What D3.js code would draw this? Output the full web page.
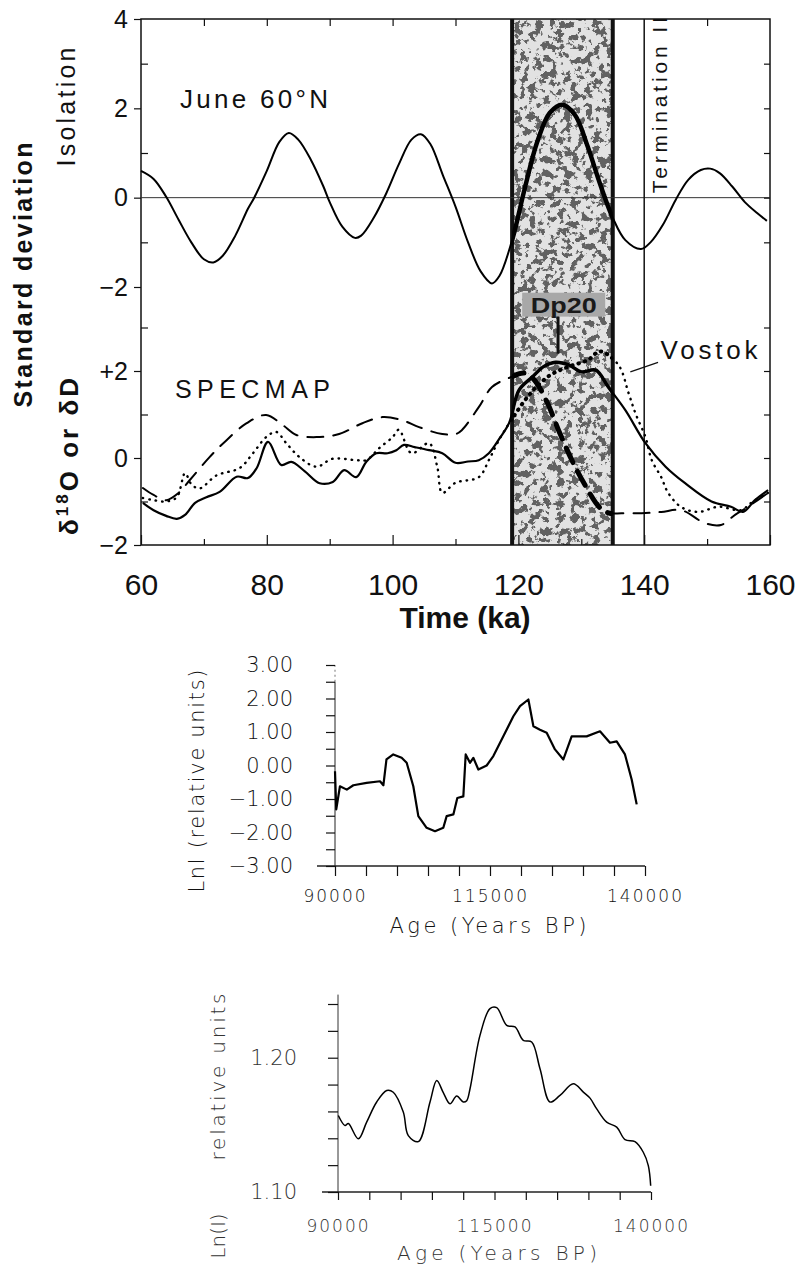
<!DOCTYPE html>
<html>
<head>
<meta charset="utf-8">
<script src="https://cdn.jsdelivr.net/npm/d3@7"></script>
<style>
  body { margin: 0; background: #fff; }
  svg { display: block; }
</style>
</head>
<body>
<svg width="800" height="1268"></svg>
<script>
// ---------- data ----------
// top panel: June 60N insolation (ka, std dev)
var insolation = [
  [60,0.6],[62,0.42],[64,0.02],[66,-0.5],[68,-1.0],[70,-1.38],[71.5,-1.45],[73,-1.3],
  [75,-0.85],[77,-0.25],[78,0.0],[80,0.6],[82,1.25],[83.5,1.45],[85,1.3],[87,0.85],
  [89,0.25],[90,-0.1],[92,-0.65],[94,-0.9],[95,-0.85],[97,-0.45],[99,0.1],[101,0.75],
  [103,1.3],[104.5,1.42],[106,1.2],[108,0.5],[110,-0.2],[112,-1.0],[114,-1.65],[115.8,-1.92],
  [117,-1.75],[119,-0.95],[121,0.2],[123,1.25],[125,1.9],[127,2.08],[129,1.85],[131,1.15],
  [133,0.3],[135,-0.45],[137,-0.95],[139.5,-1.15],[141,-1.0],[143,-0.6],[145,-0.05],[147,0.4],
  [149,0.62],[150.5,0.65],[152,0.55],[154,0.25],[156,-0.1],[158,-0.35],[159.5,-0.52]
];
// lower panel: solid curve (SPECMAP)
var specmap = [
  [60.3,-1.03],[62,-1.2],[64,-1.33],[65.7,-1.4],[67,-1.31],[68.6,-1.03],[70.4,-0.9],[72.5,-0.78],
  [75.2,-0.43],[77,-0.46],[78.4,-0.23],[80.2,0.37],[82.3,-0.16],[83.9,-0.09],[86,-0.3],[88.4,-0.58],
  [90.5,-0.55],[92.3,-0.28],[94.2,-0.44],[95.8,-0.09],[97.4,0.11],[99.2,0.11],[100.6,0.18],[101.8,0.3],
  [103.5,0.25],[105.8,0.18],[107.9,0.11],[110,-0.11],[112,-0.08],[113.7,-0.05],[115.3,0.11],[117,0.45],
  [118.5,0.8],[120.1,1.56],[122.2,1.86],[124,2.1],[125.9,2.2],[128,2.14],[130,1.98],[132.3,2.02],
  [134.3,1.63],[137,1.1],[140.2,0.34],[143.4,-0.2],[146.5,-0.58],[150.7,-1.0],[153.8,-1.12],
  [155.7,-1.24],[157.6,-0.97],[159.7,-0.74]
];
// lower panel: dotted curve (Vostok)
var vostok = [
  [60.3,-0.92],[62,-0.97],[64,-1.0],[65.7,-0.9],[67,-0.35],[68,-0.6],[69.3,-0.7],[72,-0.4],
  [75.7,-0.23],[77.8,0.11],[79.9,0.48],[81.5,0.6],[83.1,0.34],[85.2,0.02],[87.9,-0.2],[90.4,-0.02],
  [94.2,-0.05],[95.8,-0.05],[97.9,0.23],[100,0.48],[101,0.65],[103,0.11],[105.8,0.34],[107.1,-0.2],
  [107.9,-0.8],[110,-0.57],[113.7,-0.44],[115.3,-0.05],[116.9,0.41],[119,0.9],[122,1.5],[125,1.9],
  [128,2.1],[131,2.25],[133,2.45],[135.9,2.14],[137.5,1.5],[138.6,1.03],[140.2,0.48],[141.2,-0.05],
  [142.7,-0.44],[143.8,-0.8],[145.9,-1.13],[148.6,-1.24],[151.8,-1.12],[155.4,-1.2],[157,-1.03],
  [159.7,-0.8]
];
// lower panel: dashed curve
var dashedRecord = [
  [60.3,-0.69],[62,-0.85],[64,-0.97],[66,-0.8],[67.8,-0.5],[70.9,0.02],[73.6,0.41],[76.8,0.8],
  [79.9,0.99],[82.5,0.76],[84.7,0.53],[87.9,0.48],[91.5,0.55],[95.2,0.8],[98.4,0.94],[101.5,0.87],
  [104.2,0.71],[107.9,0.55],[110,0.55],[111,0.64],[113.7,1.17],[115.8,1.63],[118.5,1.84],[121,1.95],
  [122.5,1.8],[124.5,1.3],[126.5,0.6],[128.5,-0.05],[130.5,-0.6],[133,-1.15],[134.5,-1.27],
  [136.4,-1.27],[139.6,-1.27],[142.7,-1.24],[145.9,-1.2],[149.7,-1.5],[152.2,-1.54],[154.5,-1.3],
  [156.5,-1.12],[159.7,-0.8]
];
var eemianBand = [119, 135];
var terminationII = 140;
var timeTicks = [60, 80, 100, 120, 140, 160];

// middle panel: LnI (years BP, relative units)
var lnl = [
  [90000,-0.17],[90200,-1.31],[90800,-0.62],[91900,-0.72],[92960,-0.59],[95100,-0.52],[97260,-0.47],
  [97800,-0.59],[98300,0.18],[99400,0.33],[100750,0.23],[101560,0.08],[102630,-0.62],[103440,-1.51],
  [104780,-1.86],[106130,-1.96],[107470,-1.86],[108010,-1.51],[109090,-1.46],[109730,-0.97],
  [110700,-0.92],[111080,0.33],[111770,0.08],[112310,0.23],[113120,-0.12],[114460,0],[115540,0.28],
  [117150,0.87],[118770,1.47],[119840,1.77],[121190,1.97],[122000,1.17],[123060,1.07],[124140,0.98],
  [125480,0.48],[126830,0.18],[128170,0.87],[130590,0.87],[132740,1.02],[134350,0.68],[135430,0.72],
  [136770,0.33],[137850,-0.42],[138660,-1.16]
];
// bottom panel: Ln(I)
var lnI = [
  [90050,1.157],[91120,1.1495],[91650,1.151],[93250,1.1396],[94580,1.152],[96180,1.167],[97780,1.1756],
  [98830,1.1743],[100430,1.1595],[101230,1.142],[102830,1.1375],[104700,1.167],[105770,1.183],
  [106820,1.174],[107890,1.1657],[108960,1.1714],[110020,1.167],[110560,1.168],[111090,1.1769],
  [112680,1.2166],[114280,1.2366],[115350,1.2373],[116950,1.2241],[118280,1.2229],[119600,1.2129],
  [120940,1.2117],[122270,1.1918],[123870,1.167],[125460,1.1719],[127590,1.1806],[129190,1.1744],
  [130260,1.1699],[131330,1.1619],[132920,1.152],[134520,1.1483],[135850,1.139],[137440,1.1375],
  [138770,1.1296],[139570,1.1196],[139950,1.1047]
];
var ageTicks = [90000, 95000, 100000, 105000, 110000, 115000, 120000, 125000, 130000, 135000, 140000];
var ageLabels = [90000, 115000, 140000];

// ---------- drawing ----------
var svg = d3.select('svg');
var sans = 'Liberation Sans, Arial, Helvetica, sans-serif';
var thin = 'DejaVu Sans, sans-serif';

var defs = svg.append('defs');
var grain = defs.append('filter').attr('id', 'grain')
  .attr('x', 0).attr('y', 0).attr('width', 1).attr('height', 1);
grain.append('feTurbulence').attr('type', 'fractalNoise')
  .attr('baseFrequency', 0.14).attr('numOctaves', 4).attr('seed', 5).attr('result', 'n');
grain.append('feColorMatrix').attr('in', 'n').attr('type', 'matrix')
  .attr('values', '0 0 0 0 0.12  0 0 0 0 0.12  0 0 0 0 0.12  -16 0 0 0 7.6');

// top figure scales
var x = d3.scaleLinear().domain([60, 160]).range([141, 770]);
var yTop = d3.scaleLinear().domain([-2, 4]).range([287, 19]);
var yBot = d3.scaleLinear().domain([-2, 2]).range([545, 371]);
var plotTop = 19, plotBottom = 545;

defs.append('clipPath').attr('id', 'bandClip').append('rect')
  .attr('x', x(eemianBand[0])).attr('y', plotTop)
  .attr('width', x(eemianBand[1]) - x(eemianBand[0])).attr('height', plotBottom - plotTop);

// shaded band
var band = svg.append('g');
band.append('rect')
  .attr('x', x(eemianBand[0])).attr('y', plotTop)
  .attr('width', x(eemianBand[1]) - x(eemianBand[0])).attr('height', plotBottom - plotTop)
  .attr('fill', '#e2e2e2');
band.append('rect')
  .attr('x', x(eemianBand[0])).attr('y', plotTop)
  .attr('width', x(eemianBand[1]) - x(eemianBand[0])).attr('height', plotBottom - plotTop)
  .attr('fill', '#000').attr('filter', 'url(#grain)');
eemianBand.forEach(function (t) {
  band.append('line')
    .attr('x1', x(t)).attr('x2', x(t)).attr('y1', plotTop).attr('y2', plotBottom)
    .attr('stroke', '#111').attr('stroke-width', 4);
});

// label box inside band
var boxT = [120.6, 133.8], boxV = [3.8, 3.25];
svg.append('rect')
  .attr('x', x(boxT[0])).attr('y', yBot(boxV[0]))
  .attr('width', x(boxT[1]) - x(boxT[0])).attr('height', yBot(boxV[1]) - yBot(boxV[0]))
  .attr('fill', '#a8a8a8');
svg.append('text')
  .attr('x', x((boxT[0] + boxT[1]) / 2)).attr('y', yBot(boxV[1]) - 4)
  .attr('text-anchor', 'middle').attr('font-family', sans).attr('font-weight', 'bold')
  .attr('font-size', 22).attr('fill', '#1a1a1a').attr('textLength', 66)
  .attr('lengthAdjust', 'spacingAndGlyphs')
  .text('Dp20');
svg.append('line')
  .attr('x1', x(126.3)).attr('x2', x(126.3)).attr('y1', yBot(boxV[1])).attr('y2', yBot(2.4))
  .attr('stroke', '#111').attr('stroke-width', 3);

// frame
svg.append('rect').attr('x', x(60)).attr('y', plotTop)
  .attr('width', x(160) - x(60)).attr('height', plotBottom - plotTop)
  .attr('fill', 'none').attr('stroke', '#111').attr('stroke-width', 1.5);

// zero line of insolation
svg.append('line').attr('x1', x(60)).attr('x2', x(160))
  .attr('y1', yTop(0)).attr('y2', yTop(0)).attr('stroke', '#333').attr('stroke-width', 1);

// termination II line
svg.append('line').attr('x1', x(terminationII)).attr('x2', x(terminationII))
  .attr('y1', plotTop).attr('y2', plotBottom).attr('stroke', '#111').attr('stroke-width', 1.5);

// axes of the top figure
function styleAxis(g, size, fam) {
  g.select('.domain').remove();
  g.selectAll('line').attr('stroke', '#111').attr('stroke-width', 1.2);
  g.selectAll('text').attr('font-size', size).attr('font-family', fam).attr('fill', '#111');
}
var signFmt = function (d) { return d > 0 ? '+' + d : d < 0 ? '\u2212' + (-d) : '0'; };
var plainFmt = function (d) { return d < 0 ? '\u2212' + (-d) : String(d); };

svg.append('g').attr('transform', 'translate(' + x(60) + ',0)')
  .call(d3.axisLeft(yTop).tickValues([4, 2, 0, -2]).tickSize(7).tickPadding(6).tickFormat(plainFmt))
  .call(styleAxis, 25, sans);
svg.append('g').attr('transform', 'translate(' + x(60) + ',0)')
  .call(d3.axisLeft(yTop).tickValues([3, 1, -1]).tickSize(-7).tickFormat(''))
  .call(styleAxis, 25, sans);
svg.append('g').attr('transform', 'translate(' + x(60) + ',0)')
  .call(d3.axisLeft(yBot).tickValues([2, 0, -2]).tickSize(7).tickPadding(6).tickFormat(signFmt))
  .call(styleAxis, 25, sans);
svg.append('g').attr('transform', 'translate(' + x(60) + ',0)')
  .call(d3.axisLeft(yBot).tickValues([3, 1, -1]).tickSize(-7).tickFormat(''))
  .call(styleAxis, 25, sans);
svg.append('g').attr('transform', 'translate(' + x(160) + ',0)')
  .call(d3.axisRight(yTop).tickValues([3, 2, 1, 0, -1]).tickSize(-6).tickFormat(''))
  .call(styleAxis, 25, sans);
svg.append('g').attr('transform', 'translate(' + x(160) + ',0)')
  .call(d3.axisRight(yBot).tickValues([3, 2, 1, 0, -1]).tickSize(-6).tickFormat(''))
  .call(styleAxis, 25, sans);
svg.append('g').attr('transform', 'translate(0,' + plotBottom + ')')
  .call(d3.axisBottom(x).tickValues(timeTicks).tickSize(-10).tickPadding(29))
  .call(styleAxis, 30, sans);
svg.append('g').attr('transform', 'translate(0,' + plotBottom + ')')
  .call(d3.axisBottom(x).tickValues([70, 90, 110, 130, 150]).tickSize(-6).tickFormat(''))
  .call(styleAxis, 30, sans);
svg.append('g').attr('transform', 'translate(0,' + plotTop + ')')
  .call(d3.axisTop(x).tickValues([70, 80, 90, 100, 110, 150]).tickSize(-7).tickFormat(''))
  .call(styleAxis, 30, sans);

// curves
var insLine = d3.line().x(function (d) { return x(d[0]); }).y(function (d) { return yTop(d[1]); })
  .curve(d3.curveCatmullRom);
var recLine = d3.line().x(function (d) { return x(d[0]); }).y(function (d) { return yBot(d[1]); })
  .curve(d3.curveCatmullRom.alpha(0.5));

function drawCurve(gen, data, w, bandW, dash) {
  svg.append('path').attr('d', gen(data)).attr('fill', 'none').attr('stroke', '#000')
    .attr('stroke-width', w).attr('stroke-dasharray', dash || null)
    .attr('stroke-linecap', dash ? 'round' : 'butt').attr('stroke-linejoin', 'round');
  svg.append('path').attr('d', gen(data)).attr('fill', 'none').attr('stroke', '#000')
    .attr('stroke-width', bandW).attr('stroke-dasharray', dash || null)
    .attr('stroke-linecap', dash ? 'round' : 'butt').attr('stroke-linejoin', 'round')
    .attr('clip-path', 'url(#bandClip)');
}
drawCurve(insLine, insolation, 2, 4.5);
drawCurve(recLine, dashedRecord, 2, 5, '16,10');
drawCurve(recLine, vostok, 2.4, 4, '0.5,6');
drawCurve(recLine, specmap, 2.2, 3.4);

// annotations
svg.append('text').attr('x', x(66.2)).attr('y', yTop(2.0))
  .attr('font-family', sans).attr('font-size', 26).attr('textLength', 148).attr('fill', '#111')
  .text('June 60\u00b0N');
svg.append('text').attr('x', x(65.4)).attr('y', yBot(1.38))
  .attr('font-family', sans).attr('font-size', 25).attr('textLength', 155).attr('fill', '#111')
  .text('SPECMAP');
svg.append('text').attr('x', x(142.6)).attr('y', yBot(2.27))
  .attr('font-family', sans).attr('font-size', 26).attr('textLength', 97).attr('fill', '#111')
  .text('Vostok');
svg.append('line').attr('x1', x(142.2)).attr('y1', yBot(2.2)).attr('x2', x(137.8)).attr('y2', yBot(1.98))
  .attr('stroke', '#111').attr('stroke-width', 1.3);
svg.append('text')
  .attr('transform', 'translate(' + (x(terminationII) + 23) + ',' + yTop(0.1) + ') rotate(-90)')
  .attr('font-family', sans).attr('font-size', 21).attr('textLength', 176).attr('fill', '#111')
  .text('Termination II');

// axis titles of the top figure
svg.append('text').attr('transform', 'translate(75,107) rotate(-90)')
  .attr('text-anchor', 'middle').attr('font-family', sans).attr('font-size', 25)
  .attr('textLength', 119).attr('fill', '#111').text('Isolation');
svg.append('text').attr('transform', 'translate(32,275) rotate(-90)')
  .attr('text-anchor', 'middle').attr('font-family', sans).attr('font-weight', 'bold')
  .attr('font-size', 25).attr('textLength', 265).attr('fill', '#111').text('Standard deviation');
var dTitle = svg.append('text').attr('transform', 'translate(78,455) rotate(-90)')
  .attr('text-anchor', 'middle').attr('font-family', sans).attr('font-weight', 'bold')
  .attr('font-size', 26).attr('letter-spacing', 3).attr('fill', '#111');
dTitle.append('tspan').text('\u03b4');
dTitle.append('tspan').attr('font-size', 17).attr('dy', -10).text('18');
dTitle.append('tspan').attr('dy', 10).text('O or \u03b4D');
svg.append('text').attr('x', 465).attr('y', 628).attr('text-anchor', 'middle')
  .attr('font-family', sans).attr('font-weight', 'bold').attr('font-size', 30)
  .attr('fill', '#111').text('Time (ka)');

// ---------- middle figure ----------
var xM = d3.scaleLinear().domain([90000, 140000]).range([335, 645]);
var yM = d3.scaleLinear().domain([-3, 3]).range([866, 665]);

svg.append('line').attr('x1', xM(90000)).attr('x2', xM(90000))
  .attr('y1', yM(-3)).attr('y2', yM(2.5)).attr('stroke', '#222').attr('stroke-width', 1);
svg.append('line').attr('x1', xM(90000)).attr('x2', xM(90000))
  .attr('y1', yM(2.5)).attr('y2', yM(3)).attr('stroke', '#777').attr('stroke-width', 1)
  .attr('stroke-dasharray', '2,3');
svg.append('line').attr('x1', xM(90000) - 18).attr('x2', xM(140000))
  .attr('y1', yM(-3)).attr('y2', yM(-3)).attr('stroke', '#222').attr('stroke-width', 1.3);

svg.append('g').attr('transform', 'translate(' + xM(90000) + ',0)')
  .call(d3.axisLeft(yM).tickValues([-3, -2, -1, 0, 1, 2, 3]).tickSize(9).tickPadding(33)
    .tickFormat(function (d) { return d < 0 ? '\u2212' + d3.format('.2f')(-d) : d3.format('.2f')(d); }))
  .call(styleAxis, 21, thin)
  .call(function (g) { g.selectAll('text').attr('font-weight', 200); });
svg.append('g').attr('transform', 'translate(' + xM(90000) + ',0)')
  .call(d3.axisLeft(yM).tickValues([-2.5, -1.5, -0.5, 0.5, 1.5, 2.5]).tickSize(9).tickFormat(''))
  .call(styleAxis, 21, thin);
svg.append('g').attr('transform', 'translate(0,' + yM(-3) + ')')
  .call(d3.axisBottom(xM).tickValues(ageTicks).tickSize(10).tickPadding(14)
    .tickFormat(function (d) { return ageLabels.indexOf(d) >= 0 ? d : ''; }))
  .call(styleAxis, 17, thin)
  .call(function (g) { g.selectAll('text').attr('letter-spacing', 2).attr('font-weight', 200); });

var lnlLine = d3.line().x(function (d) { return xM(d[0]); }).y(function (d) { return yM(d[1]); });
svg.append('path').attr('d', lnlLine(lnl)).attr('fill', 'none').attr('stroke', '#000')
  .attr('stroke-width', 2.2).attr('stroke-linejoin', 'round');

svg.append('text').attr('transform', 'translate(204,781) rotate(-90)')
  .attr('text-anchor', 'middle').attr('font-family', thin).attr('font-size', 21).attr('font-weight', 200)
  .attr('textLength', 223).attr('fill', '#111').text('Lnl (relative units)');
svg.append('text').attr('x', 488).attr('y', 933).attr('text-anchor', 'middle')
  .attr('font-family', thin).attr('font-size', 21).attr('font-weight', 200).attr('textLength', 197)
  .attr('fill', '#111').text('Age (Years BP)');

// ---------- bottom figure ----------
var xB = d3.scaleLinear().domain([90000, 140000]).range([338, 651]);
var yB = d3.scaleLinear().domain([1.10, 1.24]).range([1192, 1004]);
var lnITicks = [1.10, 1.12, 1.14, 1.16, 1.18, 1.20, 1.22, 1.24];

svg.append('line').attr('x1', xB(90000)).attr('x2', xB(90000))
  .attr('y1', yB(1.10)).attr('y2', yB(1.247)).attr('stroke', '#333').attr('stroke-width', 1);
svg.append('line').attr('x1', xB(90000) - 16).attr('x2', xB(140000))
  .attr('y1', yB(1.10)).attr('y2', yB(1.10)).attr('stroke', '#222').attr('stroke-width', 1.3);
svg.append('g').attr('transform', 'translate(' + xB(90000) + ',0)')
  .call(d3.axisLeft(yB).tickValues(lnITicks).tickSize(10).tickPadding(31)
    .tickFormat(function (d) { return (Math.abs(d - 1.10) < 1e-9 || Math.abs(d - 1.20) < 1e-9) ? d3.format('.2f')(d) : ''; }))
  .call(styleAxis, 21, thin)
  .call(function (g) { g.selectAll('text').attr('fill', '#333').attr('font-weight', 200); });
svg.append('g').attr('transform', 'translate(0,' + yB(1.10) + ')')
  .call(d3.axisBottom(xB).tickValues(ageTicks).tickSize(8).tickPadding(20)
    .tickFormat(function (d) { return ageLabels.indexOf(d) >= 0 ? d : ''; }))
  .call(styleAxis, 17, thin)
  .call(function (g) { g.selectAll('text').attr('letter-spacing', 2).attr('fill', '#333').attr('font-weight', 200); });

var lnILine = d3.line().x(function (d) { return xB(d[0]); }).y(function (d) { return yB(d[1]); })
  .curve(d3.curveCatmullRom.alpha(0.5));
svg.append('path').attr('d', lnILine(lnI)).attr('fill', 'none').attr('stroke', '#000')
  .attr('stroke-width', 1.5).attr('stroke-linejoin', 'round');

svg.append('text').attr('transform', 'translate(225,1077) rotate(-90)')
  .attr('text-anchor', 'middle').attr('font-family', thin).attr('font-size', 20).attr('font-weight', 200)
  .attr('textLength', 167).attr('fill', '#333').text('relative units');
svg.append('text').attr('transform', 'translate(225,1236) rotate(-90)')
  .attr('text-anchor', 'middle').attr('font-family', thin).attr('font-size', 20).attr('font-weight', 200)
  .attr('fill', '#333').text('Ln(I)');
svg.append('text').attr('x', 497).attr('y', 1260).attr('text-anchor', 'middle')
  .attr('font-family', thin).attr('font-size', 20).attr('font-weight', 200).attr('textLength', 200)
  .attr('fill', '#333').text('Age (Years BP)');
</script>
</body>
</html>
